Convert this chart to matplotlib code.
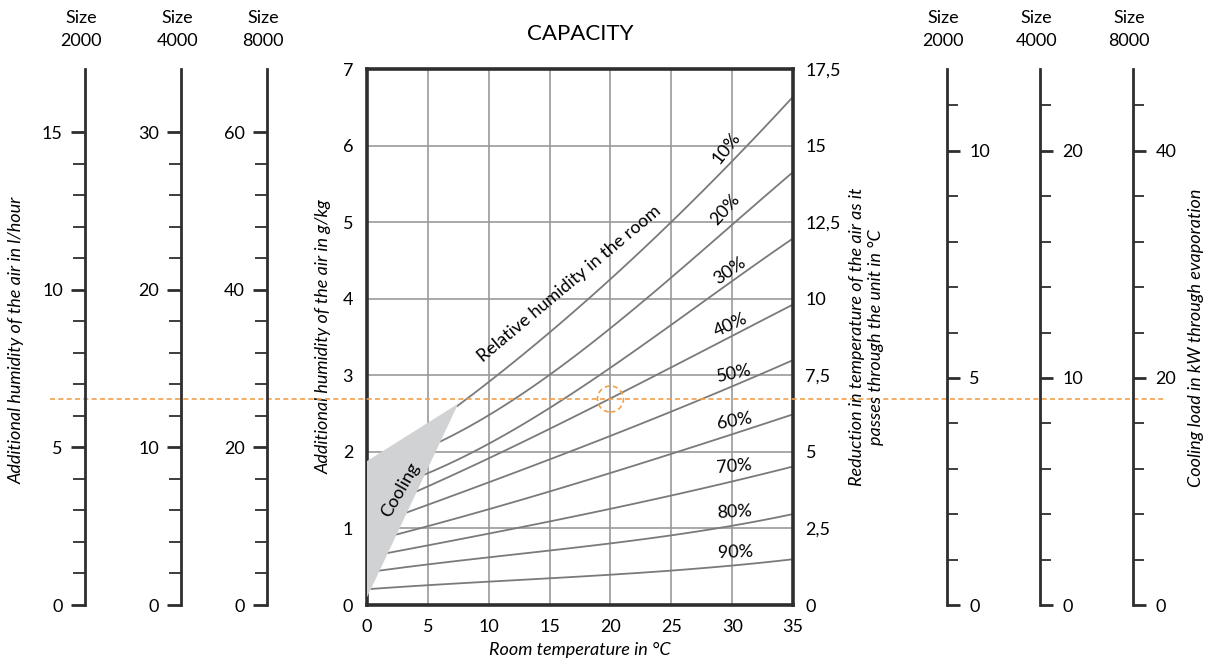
import numpy as np
import matplotlib.pyplot as plt
from matplotlib.patches import Polygon, Ellipse
from matplotlib.ticker import FixedLocator
from matplotlib.transforms import blended_transform_factory

plt.rcParams['font.family'] = ['Lato', 'DejaVu Sans']

W, H = 1216, 670
GRAY = '#7a7a7a'
DARK = '#2e2e2e'
ORANGE = '#f2a04a'

# room temperature steps (°C)
temps = [5, 10, 15, 20, 25, 30, 35]
nan = np.nan

# relative humidity curves: where they leave the cooling wedge, then values at temps (g/kg)
rh_labels = ['10%', '20%', '30%', '40%', '50%', '60%', '70%', '80%', '90%']
start_t = [7.4, 6.0, 4.75, 4.1, 3.3, 2.4, 1.73, 1.04, 0.34]
start_h = [2.60, 2.12, 1.70, 1.49, 1.21, 0.92, 0.68, 0.45, 0.21]
hum_10 = [nan, 2.91, 3.55, 4.27, 5.00, 5.79, 6.64]
hum_20 = [nan, 2.50, 3.02, 3.58, 4.27, 5.00, 5.64]
hum_30 = [1.72, 2.12, 2.57, 3.09, 3.65, 4.25, 4.78]
hum_40 = [1.55, 1.90, 2.31, 2.70, 3.11, 3.50, 3.93]
hum_50 = [1.31, 1.60, 1.90, 2.21, 2.53, 2.85, 3.20]
hum_60 = [1.03, 1.25, 1.48, 1.73, 1.97, 2.23, 2.49]
hum_70 = [0.78, 0.93, 1.09, 1.26, 1.43, 1.61, 1.81]
hum_80 = [0.53, 0.62, 0.71, 0.81, 0.91, 1.03, 1.19]
hum_90 = [0.26, 0.30, 0.35, 0.40, 0.45, 0.51, 0.60]
curves = [hum_10, hum_20, hum_30, hum_40, hum_50, hum_60, hum_70, hum_80, hum_90]

# curve label positions and angles
lab_t = [29.5, 29.4, 29.8, 29.9, 30.2, 30.2, 30.2, 30.2, 30.3]
lab_h = [5.97, 5.16, 4.36, 3.65, 3.02, 2.40, 1.81, 1.21, 0.69]
lab_rot = [52, 48, 35, 25, 12, 10, 5, 3, 2]

# cooling wedge corners (°C, g/kg)
wedge_t = [0, 0, 7.5]
wedge_h = [0.1, 1.88, 2.63]

# example reading
ex_t, ex_h = 20, 2.69

# side scales
sizes = ['2000', '4000', '8000']
size_mult = [1, 2, 4]
lh_per_gkg = 2.43          # l/hour per g/kg for size 2000
kw_per_gkg = 1.686         # kW per g/kg for size 2000
lh_major = [0, 5, 10, 15]
kw_major = [0, 5, 10]
lh_minor_top = 15
kw_minor_top = 11
reduction_ticks = [0, 2.5, 5, 7.5, 10, 12.5, 15, 17.5]

FS = 13

fig = plt.figure(figsize=(W / 100, H / 100), dpi=100)
bottom, top = 1 - 605 / H, 1 - 69 / H
ax = fig.add_axes([367 / W, bottom, (793 - 367) / W, top - bottom])
ax.set_xlim(0, 35)
ax.set_ylim(0, 7)

for t in range(5, 35, 5):
    ax.axvline(t, color='#9a9a9a', lw=1.2, zorder=1)
for h in range(1, 7):
    ax.axhline(h, color='#9a9a9a', lw=1.2, zorder=1)

for i, vals in enumerate(curves):
    keep = [(t, v) for t, v in zip(temps, vals) if not np.isnan(v) and t > start_t[i]]
    xs = np.array([start_t[i]] + [k[0] for k in keep])
    ys = np.array([start_h[i]] + [k[1] for k in keep])
    # smooth line through the read points
    fit = np.poly1d(np.polyfit(xs, ys, 3))
    tt = np.linspace(xs[0], xs[-1], 120)
    ax.plot(tt, fit(tt), color=GRAY, lw=1.3, zorder=2)
    ax.text(lab_t[i], lab_h[i], rh_labels[i], rotation=lab_rot[i], fontsize=FS,
            ha='center', va='center', rotation_mode='anchor', zorder=4)

ax.add_patch(Polygon(list(zip(wedge_t, wedge_h)), closed=True, facecolor='#d1d2d4',
                     edgecolor='none', zorder=3))
ax.text(2.7, 1.5, 'Cooling', rotation=60, fontsize=FS, ha='center', va='center',
        rotation_mode='anchor', zorder=4)
ax.text(16.6, 4.2, 'Relative humidity in the room', rotation=40, fontsize=FS,
        ha='center', va='center', rotation_mode='anchor', zorder=4)

for s in ax.spines.values():
    s.set_color(DARK)
    s.set_linewidth(2.6)
ax.tick_params(length=0, labelsize=FS, pad=10)
ax.set_xticks(range(0, 36, 5))
ax.set_yticks(range(0, 8))
ax.set_ylabel('Additional humidity of the air in g/kg', fontsize=FS, style='italic', labelpad=8)
ax.set_xlabel('Room temperature in °C', fontsize=FS, style='italic', labelpad=5)
ax.set_title('CAPACITY', fontsize=16, pad=21)

ax2 = ax.twinx()
ax2.set_ylim(0, 17.5)
ax2.set_yticks(reduction_ticks)
ax2.set_yticklabels([f'{v:g}'.replace('.', ',') for v in reduction_ticks])
ax2.tick_params(length=0, labelsize=FS, pad=9)
for s in ax2.spines.values():
    s.set_visible(False)
ax2.set_ylabel('Reduction in temperature of the air as it\npasses through the unit in °C',
               fontsize=FS, style='italic', labelpad=6)

# example marker and dashed guide line across the whole figure
ax.add_patch(Ellipse((ex_t, ex_h), width=26 / 12.17, height=26 / 76.6, fill=False,
                     edgecolor=ORANGE, lw=1.2, ls=(0, (3, 2)), zorder=5))
tr = blended_transform_factory(fig.transFigure, ax.transData)
ax.plot([50 / W, 1163 / W], [ex_h, ex_h], transform=tr, color=ORANGE, lw=1.2,
        ls=(0, (3, 2)), clip_on=False, zorder=5)

# left scales: l/hour, right scales: kW
left_x = [85, 181, 267]
right_x = [947, 1040, 1133]
for i, m in enumerate(size_mult):
    sa = fig.add_axes([left_x[i] / W, bottom, 0.0001, top - bottom])
    sa.set_ylim(0, 7 * lh_per_gkg * m)
    for k in ['right', 'top', 'bottom']:
        sa.spines[k].set_visible(False)
    sa.spines['left'].set_color(DARK)
    sa.spines['left'].set_linewidth(2)
    sa.set_xticks([])
    sa.yaxis.set_major_locator(FixedLocator([v * m for v in lh_major]))
    sa.yaxis.set_minor_locator(FixedLocator([v * m for v in range(lh_minor_top + 1)]))
    sa.tick_params(which='major', length=10, width=2, color=DARK, labelsize=FS, pad=6)
    sa.tick_params(which='minor', length=9, width=1.3, color=DARK)
    sa.patch.set_visible(False)
    fig.text(left_x[i] / W - 0.003, 1 - 10 / H, 'Size\n' + sizes[i], ha='center',
             va='top', fontsize=FS, linespacing=1.5)

    ra = fig.add_axes([right_x[i] / W, bottom, 0.0001, top - bottom])
    ra.set_ylim(0, 7 * kw_per_gkg * m)
    for k in ['left', 'top', 'bottom']:
        ra.spines[k].set_visible(False)
    ra.spines['right'].set_color(DARK)
    ra.spines['right'].set_linewidth(2)
    ra.set_xticks([])
    ra.yaxis.tick_right()
    ra.yaxis.set_major_locator(FixedLocator([v * m for v in kw_major]))
    ra.yaxis.set_minor_locator(FixedLocator([v * m for v in range(kw_minor_top + 1)]))
    ra.tick_params(which='major', length=9, width=2, color=DARK, labelsize=FS, pad=7)
    ra.tick_params(which='minor', length=8, width=1.3, color=DARK)
    ra.patch.set_visible(False)
    fig.text(right_x[i] / W - 0.003, 1 - 10 / H, 'Size\n' + sizes[i], ha='center',
             va='top', fontsize=FS, linespacing=1.5)

fig.text(17 / W, 1 - 340 / H, 'Additional humidity of the air in l/hour', rotation=90,
         ha='center', va='center', fontsize=FS, style='italic')
fig.text(1196 / W, 1 - 338 / H, 'Cooling load in kW through evaporation', rotation=90,
         ha='center', va='center', fontsize=FS, style='italic')

fig.savefig('out.png', dpi=100)
